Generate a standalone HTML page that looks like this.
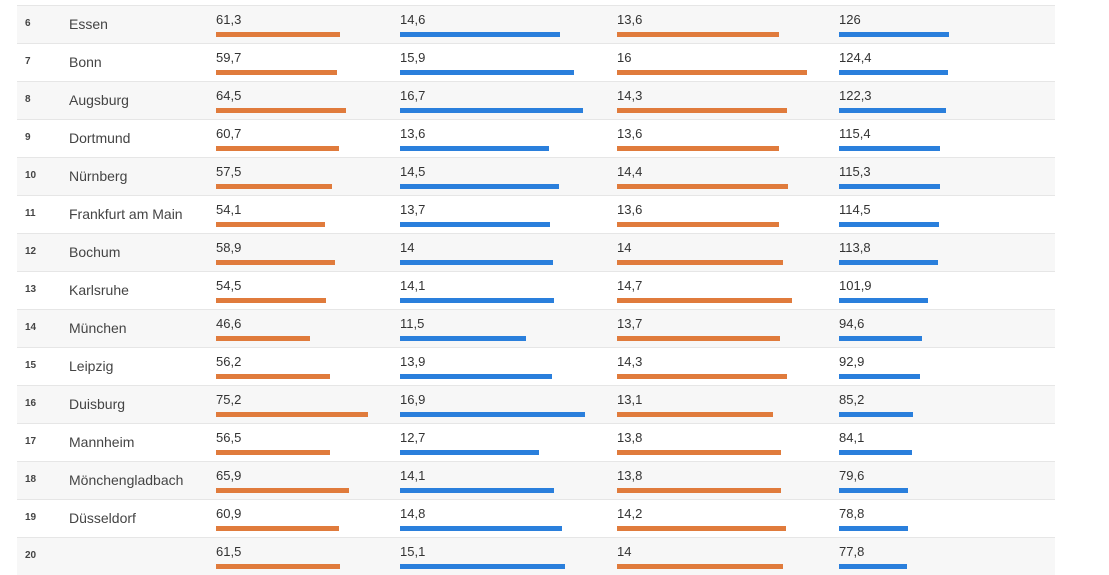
<!DOCTYPE html>
<html><head><meta charset="utf-8">
<style>
body{margin:0;width:1109px;height:550px;overflow:hidden;background:#fff;font-family:"Liberation Sans",sans-serif;color:#333}
#t{position:absolute;left:17px;top:5px;width:1038px}
.row{position:absolute;left:0;width:1038px;height:38px;border-top:1px solid #e6e6e6;box-sizing:border-box}
.row.g{background:#f7f7f7}
.rk{position:absolute;left:8px;top:12px;font-size:10px;font-weight:bold;color:#444}
.nm{position:absolute;left:52px;top:10px;font-size:14px;color:#444}
.v{position:absolute;top:6px;font-size:13px;color:#333}
.b{position:absolute;top:26px;height:5px}
</style></head><body>
<div id="t"></div>
<script>
const ranks=[6,7,8,9,10,11,12,13,14,15,16,17,18,19,20];
const cities=["Essen","Bonn","Augsburg","Dortmund","Nürnberg","Frankfurt am Main","Bochum","Karlsruhe","München","Leipzig","Duisburg","Mannheim","Mönchengladbach","Düsseldorf",""];
const col1=[61.3,59.7,64.5,60.7,57.5,54.1,58.9,54.5,46.6,56.2,75.2,56.5,65.9,60.9,61.5];
const col2=[14.6,15.9,16.7,13.6,14.5,13.7,14,14.1,11.5,13.9,16.9,12.7,14.1,14.8,15.1];
const col3=[13.6,16,14.3,13.6,14.4,13.6,14,14.7,13.7,14.3,13.1,13.8,13.8,14.2,14];
const col4=[126,124.4,122.3,115.4,115.3,114.5,113.8,101.9,94.6,92.9,85.2,84.1,79.6,78.8,77.8];
const cols=[
 {d:col1,x:199,s:v=>v*2.02,c:"#e07b3c",n:"col1"},
 {d:col2,x:383,s:v=>v*10.95,c:"#2a7fdc",n:"col2"},
 {d:col3,x:600,s:v=>v*11.88,c:"#e07b3c",n:"col3"},
 {d:col4,x:822,s:v=>v*0.873,c:"#2a7fdc",n:"col4"}];
const fmt=v=>String(v).replace('.',',');
const t=document.getElementById('t');
ranks.forEach((r,i)=>{
 const row=document.createElement('div');
 row.className='row'+(i%2===0?' g':'');
 row.style.top=(i*38)+'px';
 
 
 const rk=document.createElement('div');rk.className='rk';rk.textContent=r;
 
 
 row.appendChild(rk);
 const nm=document.createElement('div');nm.className='nm';nm.textContent=cities[i];
 
 
 row.appendChild(nm);
 cols.forEach(c=>{
  const v=document.createElement('div');v.className='v';v.style.left=c.x+'px';v.textContent=fmt(c.d[i]);
  
  
  row.appendChild(v);
  const b=document.createElement('div');b.className='b';b.style.left=c.x+'px';b.style.width=c.s(c.d[i])+'px';b.style.background=c.c;
  
  
  row.appendChild(b);
 });
 t.appendChild(row);
});
</script>
</body></html>
